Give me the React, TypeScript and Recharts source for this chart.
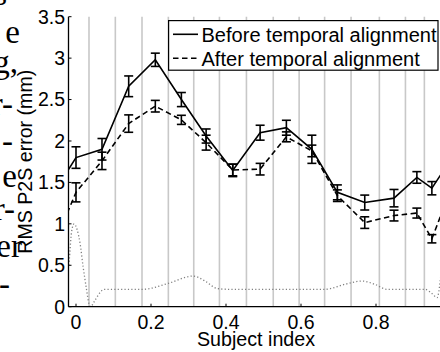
import React from 'react';
import { LineChart, Line, XAxis, YAxis, ErrorBar, ReferenceLine, Legend } from 'recharts';

// ---- data ----
const subjectX = [-0.07, 0, 0.0693, 0.1405, 0.2115, 0.281, 0.347, 0.418, 0.491, 0.561, 0.629, 0.697, 0.77, 0.848, 0.909, 0.949, 1.0];
const beforeMean = [1.3, 1.8, 1.9, 2.66, 2.98, 2.5, 2.06, 1.645, 2.1, 2.16, 1.9, 1.38, 1.257, 1.31, 1.56, 1.43, 1.78];
const beforeErr = [null, 0.13, 0.13, 0.125, 0.08, 0.085, 0.085, 0.075, 0.09, 0.09, 0.17, 0.09, 0.09, 0.105, 0.07, 0.08, null];
const afterMean = [0.63, 1.38, 1.76, 2.21, 2.42, 2.255, 1.98, 1.65, 1.66, 2.05, 1.88, 1.34, 1.015, 1.1, 1.13, 0.82, 1.42];
const afterErr = [null, 0.115, 0.105, 0.105, 0.07, 0.055, 0.09, 0.07, 0.07, 0.06, 0.07, 0.07, 0.07, 0.065, 0.06, 0.05, null];

const dottedX = [-0.027, -0.018, -0.012, -0.005, 0.003, 0.011, 0.019, 0.027, 0.035, 0.0387, 0.051, 0.064, 0.075, 0.179, 0.245, 0.312, 0.344, 0.376, 0.405, 0.664, 0.717, 0.763, 0.797, 0.829, 0.931, 0.949, 0.963, 0.971, 0.979];
const dottedV = [0.3, 0.56, 0.9, 1.0, 0.93, 0.76, 0.48, 0.24, 0.03, 0.0, 0.08, 0.17, 0.21, 0.21, 0.28, 0.37, 0.31, 0.22, 0.21, 0.21, 0.27, 0.31, 0.27, 0.21, 0.21, 0.16, 0.11, 0.3, 0.7];

const xTicks = [0, 0.2, 0.4, 0.6, 0.8];
const yTicks = [0, 0.5, 1, 1.5, 2, 2.5, 3, 3.5];
const xDomain = [-0.02, 0.98];
const yDomain = [0, 3.5];

const legendLabels = ['Before temporal alignment', 'After temporal alignment'];
const paperFragments = ['ns', 'e', 'g,', 'r-', '-', 'e', 'r-', 'er', '-'];

// ---- derived tables ----
const rows = subjectX.map((x, i) => ({
  x,
  before: beforeMean[i],
  beforeErr: beforeErr[i],
  after: afterMean[i],
  afterErr: afterErr[i],
}));
const dottedRows = dottedX.map((x, i) => ({ x, v: dottedV[i] }));
// gray separators between neighbouring subjects
const separators = subjectX.slice(1).map((x, i) => (x + subjectX[i]) / 2);

const FONT = '"Liberation Sans", Arial, Helvetica, sans-serif';
const FS = 19.5;

const fragPos = [
  { x: 7, y: 5 },
  { x: 20, y: 43 },
  { x: 18, y: 73 },
  { x: 13, y: 115 },
  { x: 13, y: 152 },
  { x: 17, y: 187 },
  { x: 15, y: 220 },
  { x: 22, y: 257 },
  { x: 10, y: 295 },
];
const legendTextWidths = [235, 218.3];

const LegendBox = () => (
  <svg width={272} height={52} style={{ display: 'block' }}>
    <rect x={0.6} y={0.6} width={269.4} height={49.6} fill="#fff" stroke="#000" strokeWidth={1.2} />
    {legendLabels.map((label, i) => (
      <g key={label}>
        <line
          x1={5}
          y1={14.3 + i * 24}
          x2={30}
          y2={14.3 + i * 24}
          stroke="#000"
          strokeWidth={1.6}
          strokeDasharray={i === 1 ? '5.5 3.5' : undefined}
        />
        <text
          x={33.5}
          y={21.5 + i * 24}
          fontFamily={FONT}
          fontSize={20}
          fill="#000"
          textLength={legendTextWidths[i]}
          lengthAdjust="spacingAndGlyphs"
        >
          {label}
        </text>
      </g>
    ))}
  </svg>
);

export default function App() {
  return (
    <div style={{ position: 'absolute', left: 0, top: 0, width: 440, height: 352, overflow: 'hidden', background: '#fff' }}>
      <svg width={440} height={352} style={{ position: 'absolute', left: 0, top: 0 }}>
        {paperFragments.map((t, i) => (
          <text
            key={i}
            x={fragPos[i].x}
            y={fragPos[i].y}
            textAnchor="end"
            fontFamily='"Liberation Serif", "Times New Roman", serif'
            fontSize={33}
            fill="#000"
          >
            {t}
          </text>
        ))}
      </svg>
      <div style={{ position: 'absolute', left: 0, top: 0 }}>
        <LineChart
          width={460}
          height={352}
          data={rows}
          margin={{ top: 16.7, right: 16.5, bottom: 0, left: 0 }}
        >
          {separators.map((s, i) => (
            <ReferenceLine key={i} x={s} stroke="#c8c8c8" strokeWidth={1.6} />
          ))}
          <XAxis
            dataKey="x"
            type="number"
            domain={xDomain}
            ticks={xTicks}
            allowDataOverflow
            height={45.3}
            tickSize={-3}
            tickMargin={11}
            interval={0}
            axisLine={{ stroke: '#000', strokeWidth: 1.3 }}
            tickLine={{ stroke: '#000', strokeWidth: 1 }}
            tick={{ fill: '#000', fontSize: FS, fontFamily: FONT }}
            label={{
              content: (p: any) => {
                const vb = p.viewBox || { x: 68.5, y: 306.7, width: 375 };
                return (
                  <text
                    x={vb.x + vb.width / 2}
                    y={vb.y + 39}
                    textAnchor="middle"
                    fontSize={FS}
                    fontFamily={FONT}
                    fill="#000"
                    textLength={118}
                    lengthAdjust="spacingAndGlyphs"
                  >
                    Subject index
                  </text>
                );
              },
            }}
          />
          <XAxis
            xAxisId="top"
            orientation="top"
            dataKey="x"
            type="number"
            domain={xDomain}
            ticks={xTicks}
            allowDataOverflow
            height={0}
            tickSize={-3}
            axisLine={false}
            tick={false}
            tickLine={{ stroke: '#000', strokeWidth: 1 }}
          />
          <YAxis
            type="number"
            domain={yDomain}
            ticks={yTicks}
            allowDataOverflow
            width={68.5}
            tickSize={-3}
            tickMargin={6.5}
            interval={0}
            axisLine={{ stroke: '#000', strokeWidth: 1.3 }}
            tickLine={{ stroke: '#000', strokeWidth: 1 }}
            tick={{ fill: '#000', fontSize: FS, fontFamily: FONT }}
            label={{
              content: (p: any) => {
                const vb = p.viewBox || { x: 0, y: 16.7, width: 68.5, height: 290 };
                const cx = vb.x + 31.7;
                const cy = vb.y + vb.height / 2;
                return (
                  <text
                    transform={`translate(${cx},${cy}) rotate(-90)`}
                    textAnchor="middle"
                    fontSize={FS}
                    fontFamily={FONT}
                    fill="#000"
                    textLength={184}
                    lengthAdjust="spacingAndGlyphs"
                  >
                    RMS P2S error (mm)
                  </text>
                );
              },
            }}
          />
          <Line
            data={dottedRows}
            dataKey="v"
            type="monotone"
            stroke="#808080"
            strokeWidth={1.3}
            strokeDasharray="1.2 2.2"
            dot={false}
            activeDot={false}
            isAnimationActive={false}
            legendType="none"
          />
          <Line
            dataKey="before"
            type="linear"
            stroke="#000"
            strokeWidth={1.6}
            dot={false}
            activeDot={false}
            isAnimationActive={false}
          >
            <ErrorBar dataKey="beforeErr" width={4.5} stroke="#000" strokeWidth={1.6} direction="y" isAnimationActive={false} />
          </Line>
          <Line
            dataKey="after"
            type="linear"
            stroke="#000"
            strokeWidth={1.6}
            strokeDasharray="5.5 3.5"
            dot={false}
            activeDot={false}
            isAnimationActive={false}
          >
            <ErrorBar dataKey="afterErr" width={4.5} stroke="#000" strokeWidth={1.6} direction="y" isAnimationActive={false} />
          </Line>
          <Legend
            layout="vertical"
            verticalAlign="middle"
            align="center"
            content={() => <LegendBox />}
            wrapperStyle={{ position: 'absolute', left: 168, top: 20, width: 272, height: 52, margin: 0, padding: 0 }}
          />
        </LineChart>
      </div>
    </div>
  );
}
